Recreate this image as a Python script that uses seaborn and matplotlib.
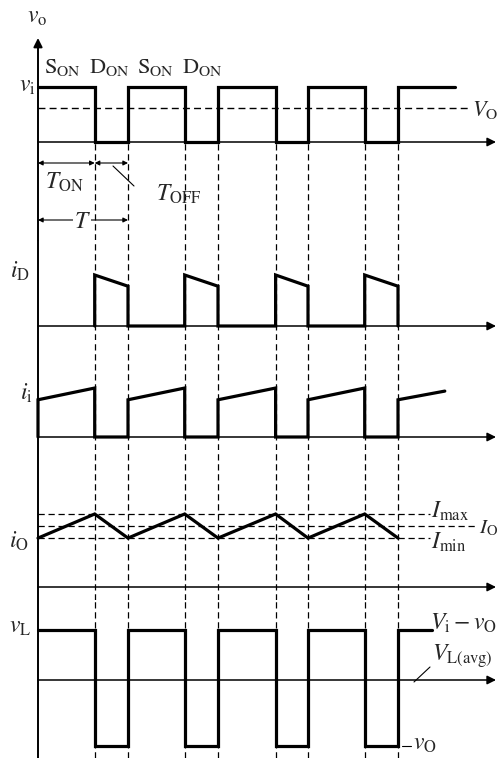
import numpy as np
import pandas as pd
import matplotlib
matplotlib.use("Agg")
import matplotlib.pyplot as plt
import seaborn as sns

# ---------------- data ----------------
t_off = [0.63, 1.63, 2.64, 3.63]      # switch turns off / diode turns on (in periods)
t_on = [1.0, 2.0, 3.0, 4.0]           # switch turns on again
v_i = 1.0                              # input voltage level (normalised)
V_O = 0.62                             # average output (dashed)
vo_end = 4.63
iD_peak = 1.0
iD_end = 0.78
ii_start = 0.73
ii_end = 0.96
ii_last_t = 4.52
ii_last_val = 0.90
I_max = 1.0
I_min = 0.67
I_O = 0.835
vL_high = 0.76
vL_low = -1.0
vL_end = 4.38

top_labels = [r"$\mathrm{S}_{\mathrm{ON}}$", r"$\mathrm{D}_{\mathrm{ON}}$",
              r"$\mathrm{S}_{\mathrm{ON}}$", r"$\mathrm{D}_{\mathrm{ON}}$"]

# ---------------- style ----------------
sns.set_theme(style="white")
plt.rcParams["font.family"] = ["STIXGeneral", "DejaVu Serif"]
plt.rcParams["mathtext.fontset"] = "stix"

W, H = 500, 758
fig = plt.figure(figsize=(W / 100, H / 100), dpi=100)
X0, PPT = 38.0, 90.0          # pixel of t=0, pixels per period
FS = 17


def px2t(x):
    return (x - X0) / PPT


panels = {}


def make_panel(name, top, bottom, base, ppu):
    ax = fig.add_axes([0, 1 - bottom / H, 1, (bottom - top) / H])
    ax.set_xlim(px2t(0), px2t(W))
    ax.set_ylim((base - bottom) / ppu, (base - top) / ppu)
    ax.axis("off")
    ax.patch.set_alpha(0)
    panels[name] = (ax, base, ppu)
    return ax


def py(name, y):
    _, base, ppu = panels[name]
    return (base - y) / ppu


ax1 = make_panel("vo", 0, 240, 142, 55)
ax2 = make_panel("iD", 240, 340, 326, 51)
ax3 = make_panel("ii", 340, 450, 437, 51)
ax4 = make_panel("iO", 450, 600, 587, 73)
ax5 = make_panel("vL", 600, 758, 680, 66)

LW = 2.3
DASH = (0, (5, 3))
edges = sorted(t_off + t_on)


def wave(ax, xs, ys):
    df = pd.DataFrame({"t": xs, "v": ys})
    sns.lineplot(data=df, x="t", y="v", sort=False, estimator=None, ax=ax,
                 color="black", lw=LW, solid_joinstyle="miter")
    ax.set_xlabel("")
    ax.set_ylabel("")


def xaxis(ax, y=0.0):
    ax.annotate("", xy=(px2t(496), y), xytext=(0, y),
                arrowprops=dict(arrowstyle="-|>", lw=1.1, color="black",
                                mutation_scale=13, shrinkA=0, shrinkB=0))


# vertical time axis
for ax in (ax2, ax3, ax4, ax5):
    ax.axvline(0, color="black", lw=1.4)
ax1.annotate("", xy=(0, py("vo", 38)), xytext=(0, ax1.get_ylim()[0]),
             arrowprops=dict(arrowstyle="-|>", lw=1.4, color="black",
                             mutation_scale=13, shrinkA=0, shrinkB=0))

# vertical dashed guide lines
for e in edges:
    ax1.plot([e, e], [ax1.get_ylim()[0], 0], color="black", lw=0.9, ls=DASH)
    for ax in (ax2, ax3, ax4, ax5):
        ax.axvline(e, color="black", lw=0.9, ls=DASH)

# ---- panel 1: v_o ----
xs, ys = [0], [v_i]
for a, b in zip(t_off, t_on):
    xs += [a, a, b, b]
    ys += [v_i, 0, 0, v_i]
xs.append(vo_end); ys.append(v_i)
xaxis(ax1)
ax1.plot([0, px2t(470)], [V_O, V_O], color="black", lw=1.0, ls=DASH)
wave(ax1, xs, ys)
ax1.text(px2t(37), py("vo", 17), r"$v_{\mathrm{o}}$", fontsize=FS, ha="center", va="center")
ax1.text(px2t(36), py("vo", 86), r"$v_{\mathrm{i}}$", fontsize=FS, ha="right", va="center")
ax1.text(px2t(472), py("vo", 110), r"$V_{\mathrm{O}}$", fontsize=16, ha="left", va="center")
for xpix, lab in zip([62, 109, 155, 202], top_labels):
    ax1.text(px2t(xpix), py("vo", 68), lab, fontsize=16, ha="center", va="center")

yA = py("vo", 163)
arr = dict(arrowstyle="<|-|>", lw=0.8, color="black", mutation_scale=7, shrinkA=0, shrinkB=0)
ax1.annotate("", xy=(t_off[0], yA), xytext=(0, yA), arrowprops=arr)
ax1.annotate("", xy=(t_on[0], yA), xytext=(t_off[0], yA), arrowprops=arr)
ax1.text(px2t(64), py("vo", 182), r"$T_{\mathrm{ON}}$", fontsize=FS, ha="center", va="center")
ax1.plot([px2t(113), px2t(134)], [py("vo", 166), py("vo", 186)], color="black", lw=0.8)
ax1.text(px2t(179), py("vo", 194), r"$T_{\mathrm{OFF}}$", fontsize=FS, ha="center", va="center")
yT = py("vo", 220)
ax1.annotate("", xy=(t_on[0], yT), xytext=(0, yT), arrowprops=arr)
ax1.text(px2t(82), py("vo", 222), r"$T$", fontsize=FS, ha="center", va="center",
         bbox=dict(facecolor="white", edgecolor="none", pad=0.5))

# ---- panel 2: i_D ----
xs, ys = [], []
for a, b in zip(t_off, t_on):
    xs += [a, a, b, b]
    ys += [0, iD_peak, iD_end, 0]
xaxis(ax2)
wave(ax2, xs, ys)
ax2.text(px2t(20), py("iD", 271), r"$i_{\mathrm{D}}$", fontsize=FS, ha="center", va="center")

# ---- panel 3: i_i ----
xs, ys = [0, 0], [0, ii_start]
for a, b in zip(t_off, t_on):
    xs += [a, a, b, b]
    ys += [ii_end, 0, 0, ii_start]
xs.append(ii_last_t); ys.append(ii_last_val)
xaxis(ax3)
wave(ax3, xs, ys)
ax3.text(px2t(26), py("ii", 393), r"$i_{\mathrm{i}}$", fontsize=FS, ha="center", va="center")

# ---- panel 4: i_O ----
xaxis(ax4)
ax4.plot([0, px2t(430)], [I_max, I_max], color="black", lw=0.9, ls=DASH)
ax4.plot([0, px2t(478)], [I_O, I_O], color="black", lw=0.9, ls=DASH)
ax4.plot([0, px2t(430)], [I_min, I_min], color="black", lw=0.9, ls=DASH)
xs, ys = [0], [I_min]
for a, b in zip(t_off, t_on):
    xs += [a, b]
    ys += [I_max, I_min]
wave(ax4, xs, ys)
ax4.text(px2t(19), py("iO", 541), r"$i_{\mathrm{O}}$", fontsize=FS, ha="center", va="center")
ax4.text(px2t(431), py("iO", 511), r"$I_{\mathrm{max}}$", fontsize=FS, ha="left", va="center")
ax4.text(px2t(431), py("iO", 542), r"$I_{\mathrm{min}}$", fontsize=FS, ha="left", va="center")
ax4.text(px2t(479), py("iO", 528), r"$I_{\mathrm{O}}$", fontsize=15, ha="left", va="center")

# ---- panel 5: v_L ----
xaxis(ax5)
xs, ys = [0], [vL_high]
for a, b in zip(t_off, t_on):
    xs += [a, a, b, b]
    ys += [vL_high, vL_low, vL_low, vL_high]
xs.append(vL_end); ys.append(vL_high)
wave(ax5, xs, ys)
ax5.text(px2t(20), py("vL", 627), r"$v_{\mathrm{L}}$", fontsize=FS, ha="center", va="center")
ax5.text(px2t(430), py("vL", 623), r"$V_{\mathrm{i}}-v_{\mathrm{O}}$", fontsize=FS, ha="left", va="center")
ax5.text(px2t(432), py("vL", 656), r"$V_{\mathrm{L(avg)}}$", fontsize=FS, ha="left", va="center")
ax5.plot([px2t(430), px2t(414)], [py("vL", 667), py("vL", 682)], color="black", lw=0.8)
ax5.plot([px2t(402), px2t(411)], [vL_low, vL_low], color="black", lw=0.8)
ax5.text(px2t(413), py("vL", 744), r"$v_{\mathrm{O}}$", fontsize=FS, ha="left", va="center")

fig.savefig("out.png", dpi=100, facecolor="white")
